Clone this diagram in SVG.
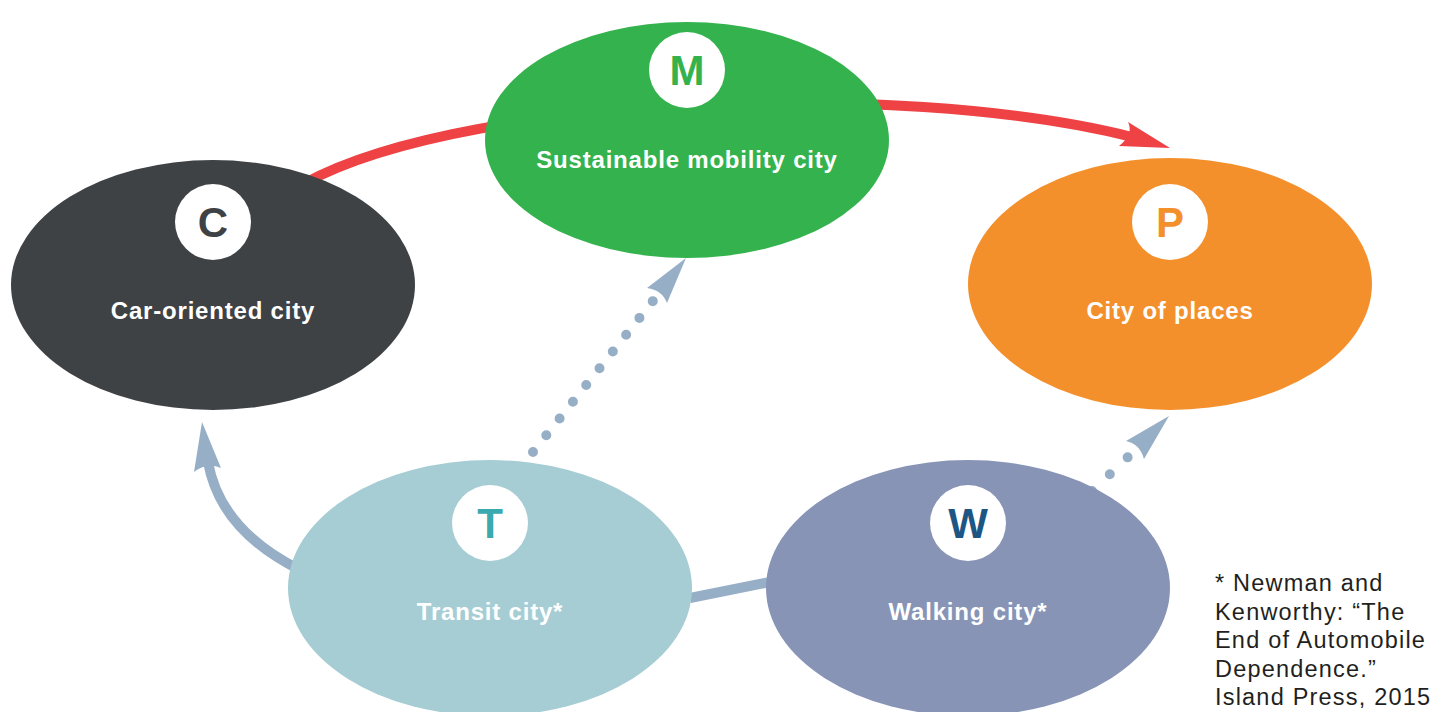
<svg xmlns="http://www.w3.org/2000/svg" width="1447" height="712" viewBox="0 0 1447 712">
<style>
.lbl{font-family:"Liberation Sans",Arial,sans-serif;font-weight:bold;font-size:24px;letter-spacing:0.8px;fill:#fff;text-anchor:middle}
.let{font-family:"Liberation Sans",Arial,sans-serif;font-weight:bold;font-size:42px;text-anchor:middle}
.note{font-family:"Liberation Sans",Arial,sans-serif;font-size:23.5px;letter-spacing:1.2px;fill:#231f20}
.gray{stroke:#97afc6;fill:none}
</style>
<rect width="1447" height="712" fill="#fff"/>
<g id="connectors">
<path d="M290 192 C440 95 900 78 1132 137" stroke="#ee4245" stroke-width="10" fill="none"/>
<path d="M1170 148 L1128 122 Q1134 134 1119 146 Z" fill="#ee4245"/>
<path d="M300 570 Q220 530 208 462" class="gray" stroke-width="10"/>
<path d="M202 422 L194 472 Q207 462 221 468 Z" fill="#97afc6"/>
<line x1="690" y1="598" x2="770" y2="582" class="gray" stroke-width="10"/>
<line x1="533" y1="452" x2="660" y2="292" class="gray" stroke-width="10" stroke-linecap="round" stroke-dasharray="0 21.4"/>
<path d="M686 258 L647 288 Q662 290 667 303 Z" fill="#97afc6"/>
<line x1="1092" y1="491" x2="1128" y2="457" class="gray" stroke-width="10" stroke-linecap="round" stroke-dasharray="0 24.5"/>
<path d="M1169 416 L1126 441 Q1140 444 1144 459 Z" fill="#97afc6"/>
</g>
<g id="node-C">
<ellipse cx="213" cy="285" rx="202" ry="125" fill="#3f4245"/>
<circle cx="213" cy="222" r="38" fill="#fff"/>
<text x="213" y="237" class="let" fill="#3f4245">C</text>
<text x="213" y="319" class="lbl">Car-oriented city</text>
</g>
<g id="node-M">
<ellipse cx="687" cy="140" rx="202" ry="118" fill="#33b24d"/>
<circle cx="687" cy="70" r="38" fill="#fff"/>
<text x="687" y="85" class="let" fill="#33b24d">M</text>
<text x="687" y="168" class="lbl">Sustainable mobility city</text>
</g>
<g id="node-P">
<ellipse cx="1170" cy="284" rx="202" ry="126" fill="#f4902c"/>
<circle cx="1170" cy="222" r="38" fill="#fff"/>
<text x="1170" y="237" class="let" fill="#f4902c">P</text>
<text x="1170" y="319" class="lbl">City of places</text>
</g>
<g id="node-T">
<ellipse cx="490" cy="588" rx="202" ry="128" fill="#a6cdd3"/>
<circle cx="490" cy="523" r="38" fill="#fff"/>
<text x="490" y="538" class="let" fill="#3aa9b0">T</text>
<text x="490" y="620" class="lbl">Transit city*</text>
</g>
<g id="node-W">
<ellipse cx="968" cy="588" rx="202" ry="128" fill="#8794b6"/>
<circle cx="968" cy="523" r="38" fill="#fff"/>
<text x="968" y="538" class="let" fill="#1b5684">W</text>
<text x="968" y="620" class="lbl">Walking city*</text>
</g>
<g id="footnote">
<text class="note" x="1215" y="591">* Newman and</text>
<text class="note" x="1215" y="619.5">Kenworthy: “The</text>
<text class="note" x="1215" y="648">End of Automobile</text>
<text class="note" x="1215" y="676.5">Dependence.”</text>
<text class="note" x="1215" y="705">Island Press, 2015</text>
</g>
</svg>
